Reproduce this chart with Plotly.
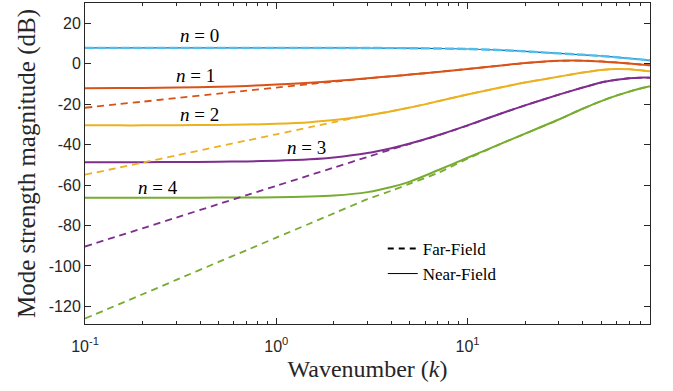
import plotly.graph_objects as go

# Wavenumber samples
K = [0.1, 0.15, 0.2, 0.3, 0.5, 0.7, 1, 1.5, 2, 3, 4, 5, 7, 10, 15, 20, 30, 40, 50, 60, 70, 80, 90]

# Mode strength magnitude (dB)
near_n0 = [7.8, 7.8, 7.8, 7.8, 7.8, 7.8, 7.8, 7.8, 7.8, 7.75, 7.7, 7.65, 7.5, 7.25, 6.7, 6.1, 5.1, 4.4, 3.8, 3.2, 2.6, 2.1, 1.6]
far_n0 = [7.8, 7.8, 7.8, 7.8, 7.8, 7.8, 7.8, 7.8, 7.8, 7.75, 7.7, 7.65, 7.5, 7.25, 6.7, 6.1, 5.1, 4.4, 3.8, 3.2, 2.6, 2.1, 1.6]
near_n1 = [-12.1, -12.05, -12.0, -11.8, -11.4, -11.0, -10.3, -9.4, -8.6, -7.2, -6.2, -5.4, -4.1, -2.6, -0.9, 0.3, 1.4, 1.5, 1.1, 0.6, 0.1, -0.4, -0.8]
far_n1 = [-21.8, -20.0, -18.8, -17.0, -14.8, -13.3, -11.8, -10.1, -8.9, -7.3, -6.2, -5.4, -4.1, -2.6, -0.9, 0.3, 1.4, 1.5, 1.1, 0.6, 0.1, -0.4, -0.8]
near_n2 = [-30.5, -30.5, -30.5, -30.4, -30.3, -30.1, -29.7, -28.9, -27.9, -25.6, -23.5, -21.7, -18.6, -15.2, -11.7, -9.3, -6.4, -4.4, -3.1, -2.6, -2.7, -3.2, -3.8]
far_n2 = [-54.9, -51.4, -48.9, -45.4, -40.9, -38.0, -34.9, -31.4, -28.9, -25.6, -23.5, -21.7, -18.6, -15.2, -11.7, -9.3, -6.4, -4.4, -3.1, -2.6, -2.7, -3.2, -3.8]
near_n3 = [-48.7, -48.7, -48.7, -48.6, -48.5, -48.3, -48.0, -47.3, -46.4, -44.2, -41.8, -39.5, -35.4, -30.5, -24.6, -20.6, -15.3, -11.8, -9.3, -8.0, -7.2, -6.9, -6.9]
far_n3 = [-90.4, -85.1, -81.4, -76.1, -69.4, -65.0, -60.4, -55.1, -51.4, -46.1, -42.4, -39.6, -35.5, -30.6, -24.6, -20.6, -15.3, -11.8, -9.3, -8.0, -7.2, -6.9, -6.9]
near_n4 = [-66.3, -66.3, -66.3, -66.3, -66.2, -66.2, -66.0, -65.7, -65.2, -63.5, -61.0, -58.3, -52.7, -46.5, -39.5, -34.6, -27.6, -22.3, -18.5, -15.8, -13.8, -12.3, -11.2]
far_n4 = [-126.0, -119.0, -114.0, -106.9, -98.0, -92.2, -86.0, -79.0, -74.0, -67.0, -62.8, -59.3, -54.0, -47.0, -39.6, -34.6, -27.6, -22.3, -18.5, -15.8, -13.8, -12.3, -11.2]

near_colors = ["#0072BD", "#D95319", "#EDB120", "#7E2F8E", "#77AC30"]
far_colors = ["#4DBEEE", "#D95319", "#EDB120", "#7E2F8E", "#77AC30"]
near_widths = [1.2, 2, 2, 2, 2]
far_widths = [2.4, 1.8, 1.8, 1.8, 1.8]
far_dashes = ["9px,3px", "7px,5px", "7px,5px", "7px,5px", "7px,5px"]

near_series = [near_n0, near_n1, near_n2, near_n3, near_n4]
far_series = [far_n0, far_n1, far_n2, far_n3, far_n4]

# Mode labels: text, log10(k) position, dB position
label_text = ["<i>n</i> = 0", "<i>n</i> = 1", "<i>n</i> = 2", "<i>n</i> = 3", "<i>n</i> = 4"]
label_logk = [-0.40, -0.42, -0.40, 0.16, -0.62]
label_db = [14.0, -5.8, -25.2, -41.6, -61.1]

y_ticks = [20, 0, -20, -40, -60, -80, -100, -120]
y_ticktext = ["20", "0", "-20", "-40", "-60", "-80", "-100", "-120"]
x_ticks = [0.1, 1, 10]
x_ticktext = ["10<sup>-1</sup>", "10<sup>0</sup>", "10<sup>1</sup>"]
x_minor = [0.2, 0.3, 0.4, 0.5, 0.6, 0.7, 0.8, 0.9, 2, 3, 4, 5, 6, 7, 8, 9, 20, 30, 40, 50, 60, 70, 80, 90]

SERIF = "Liberation Serif, Times New Roman, serif"
SANS = "Liberation Sans, Arial, sans-serif"

fig = go.Figure()
for ys, c, w in zip(near_series, near_colors, near_widths):
    fig.add_trace(go.Scatter(x=K, y=ys, mode="lines", showlegend=False,
                             line=dict(color=c, width=w, shape="spline", smoothing=0.8)))
for ys, c, w, d in zip(far_series, far_colors, far_widths, far_dashes):
    fig.add_trace(go.Scatter(x=K, y=ys, mode="lines", showlegend=False,
                             line=dict(color=c, width=w, dash=d, shape="spline", smoothing=0.8)))

# legend entries
fig.add_trace(go.Scatter(x=[None], y=[None], mode="lines", name="Far-Field",
                         line=dict(color="black", width=2, dash="6px,5px")))
fig.add_trace(go.Scatter(x=[None], y=[None], mode="lines", name="Near-Field",
                         line=dict(color="black", width=1)))

for t, lx, ly in zip(label_text, label_logk, label_db):
    fig.add_annotation(x=lx, y=ly, xref="x", yref="y", text=t, showarrow=False,
                       font=dict(family=SERIF, size=19, color="black"))

axis_common = dict(showline=True, linecolor="#262626", linewidth=1, mirror="allticks",
                   ticks="inside", tickcolor="#262626", showgrid=False, zeroline=False,
                   tickfont=dict(family=SANS, size=16, color="#262626"))

fig.update_xaxes(type="log", range=[-1, 1.9542], tickmode="array", tickvals=x_ticks,
                 ticktext=x_ticktext, ticklen=6, ticklabelstandoff=8,
                 minor=dict(tickmode="array", tickvals=x_minor, ticks="inside", ticklen=3,
                            tickcolor="#262626"),
                 title=dict(text="Wavenumber (<i>k</i>)", standoff=5,
                            font=dict(family=SERIF, size=24, color="#262626")),
                 **axis_common)
fig.update_yaxes(range=[-128.7, 30], tickmode="array", tickvals=y_ticks, ticktext=y_ticktext,
                 ticklen=6,
                 title=dict(text="Mode strength magnitude (dB)", standoff=6,
                            font=dict(family=SERIF, size=25, color="#262626")),
                 **axis_common)

fig.update_layout(
    width=673, height=391,
    margin=dict(l=85, r=23, t=3, b=67),
    paper_bgcolor="white", plot_bgcolor="white",
    legend=dict(x=0.527, y=0.29, xanchor="left", yanchor="top",
                bgcolor="rgba(0,0,0,0)", borderwidth=0,
                font=dict(family=SERIF, size=17, color="black"),
                tracegroupgap=0, itemwidth=30),
)

fig.write_html("out.html")
